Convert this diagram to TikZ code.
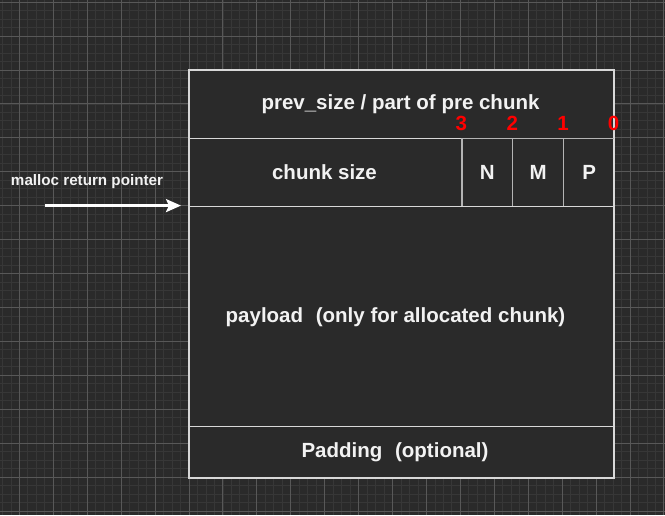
\documentclass[tikz,border=0pt]{standalone}
\usepackage{fontspec}
\setmainfont{Liberation Sans}
\usetikzlibrary{arrows.meta}
\definecolor{bgc}{HTML}{2A2A2A}
\definecolor{minorc}{HTML}{373737}
\definecolor{majorc}{HTML}{585858}
\definecolor{cellfill}{HTML}{2A2A2A}
\definecolor{cellline}{HTML}{D8D8D8}
\definecolor{divline}{HTML}{B4B4B4}
\definecolor{txt}{HTML}{F2F2F2}
\definecolor{bitred}{HTML}{FF0000}
\tikzset{
  cell/.style={draw=cellline, fill=cellfill, line width=1.2pt, inner sep=0pt, anchor=north west},
  bitcell/.style={draw=divline, line width=1.2pt, inner sep=0pt, anchor=north west,
    text=txt, font=\fontsize{20.5}{23}\selectfont\bfseries, minimum width=50.9pt, minimum height=67.8pt},
  bitnum/.style={text=bitred, inner sep=0pt, font=\fontsize{20.5}{23}\selectfont\bfseries},
  plain/.style={text=txt, inner sep=0pt, font=\fontsize{20.5}{23}\selectfont\bfseries},
  minorline/.style={draw=minorc, line width=0.8pt},
  majorline/.style={draw=majorc, line width=0.9pt},
  ptrarrow/.style={draw=white, line width=2.7pt, shorten >=8pt, -{Stealth[length=15pt,width=13pt,inset=3pt]}}
}
\newcommand{\dsp}{\hspace{0.62em}}
\begin{document}
\begin{tikzpicture}[x=1pt,y=-1pt]
\fill[bgc] (0,0) rectangle (665,515);
\useasboundingbox (0,0) rectangle (665,515);
\begin{scope}
\clip (0,0) rectangle (665,515);
\foreach \k in {-24,...,57} {
  \pgfmathsetmacro\gx{189+8.48*\k}
  \draw[minorline] (\gx,0) -- (\gx,515);
}
\foreach \k in {-9,...,53} {
  \pgfmathsetmacro\gy{70+8.48*\k}
  \draw[minorline] (0,\gy) -- (665,\gy);
}
\foreach \k in {-6,...,14} {
  \pgfmathsetmacro\gx{189+33.92*\k}
  \draw[majorline] (\gx,0) -- (\gx,515);
}
\foreach \k in {-3,...,13} {
  \pgfmathsetmacro\gy{70+33.92*\k}
  \draw[majorline] (0,\gy) -- (665,\gy);
}
\end{scope}
% chunk structure
\node[cell, minimum width=424pt, minimum height=67.8pt] (prev) at (189,70) {};
\node[plain] (prevt) at (400.5,104.5) {prev\_size / part of pre chunk};
\node[cell, minimum width=424pt, minimum height=67.8pt] (size) at (189,137.8) {};
\node[plain] (sizet) at (324.5,172) {chunk size};
\node[bitcell] (n) at (461.3,137.8) {N};
\node[bitcell] (m) at (512.2,137.8) {M};
\node[bitcell] (p) at (563.1,137.8) {P};
\node[cell, minimum width=424pt, minimum height=220.5pt] (payload) at (189,205.6) {};
\node[plain] (payloadt) at (395.5,317) {payload\dsp(only for allocated chunk)};
\node[cell, minimum width=424pt, minimum height=50.9pt] (pad) at (189,426.1) {};
\node[plain] (padt) at (395,452.5) {Padding\dsp(optional)};
% redraw outer border on top
\draw[cellline, line width=1.2pt] (prev.north west) rectangle (pad.south east);
% bit numbers
\node[bitnum] (d3) at (461.3,123) {3};
\node[bitnum] (d2) at (512.2,123) {2};
\node[bitnum] (d1) at (563.1,123) {1};
\node[bitnum] (d0) at (613.5,123) {0};
% pointer
\node[text=txt, inner sep=0pt, font=\fontsize{15.2}{17}\selectfont\bfseries] (ptrlabel) at (87,181.5) {malloc return pointer};
\coordinate (ptrstart) at (45,205.6);
\draw[ptrarrow] (ptrstart) -- (payload.north west);
\end{tikzpicture}
\end{document}
